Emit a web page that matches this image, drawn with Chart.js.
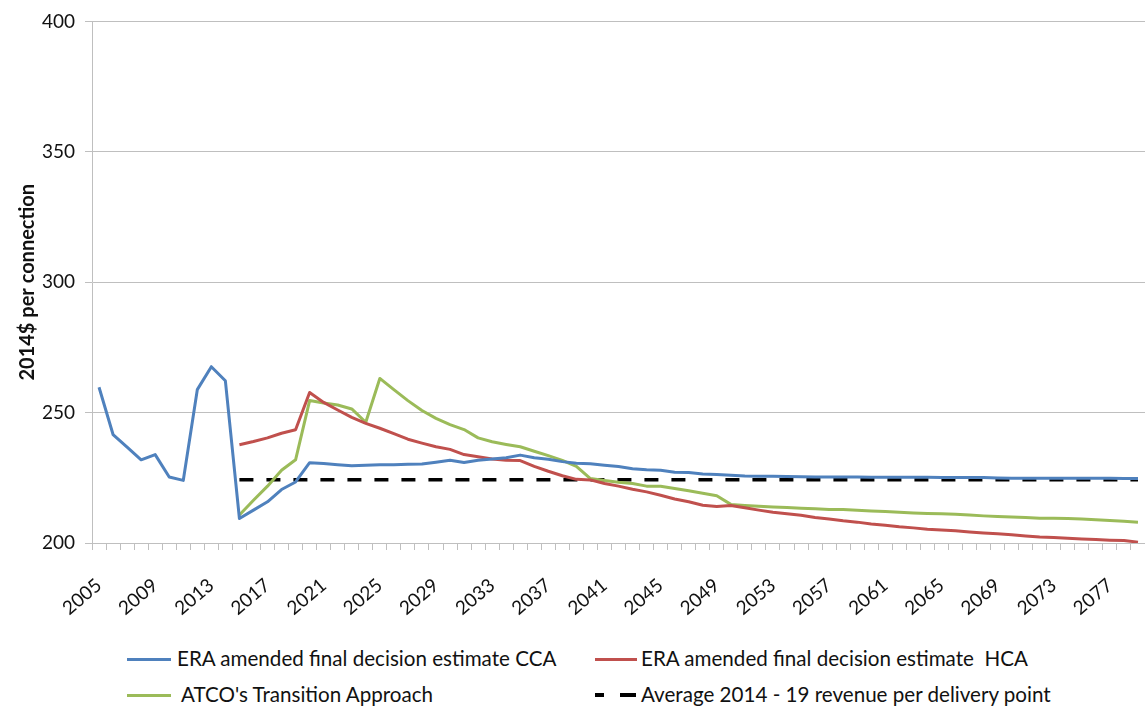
<!DOCTYPE html>
<html>
<head>
<meta charset="utf-8">
<script src="https://cdn.jsdelivr.net/npm/chart.js@4.4.0/dist/chart.umd.min.js"></script>
<style>
  body { margin: 0; background: #fff; font-family: Lato, "Noto Sans", sans-serif; }
  #wrap { position: relative; width: 1145px; height: 707px; overflow: hidden; }
  #chart { position: absolute; left: 0; top: 0; }
  .leg { position: absolute; font-size: 20.6px; color: #111; white-space: nowrap; line-height: 24px; }
  .sw { position: absolute; height: 0; border-top: 3px solid; }
</style>
</head>
<body>
<div id="wrap">
  <canvas id="chart" width="1145" height="640"></canvas>
  <div class="sw" style="left:127px;top:658px;width:44px;border-color:#4F81BD"></div>
  <div class="leg" style="left:177px;top:646px">ERA amended final decision estimate CCA</div>
  <div class="sw" style="left:595px;top:658px;width:42px;border-color:#C0504D"></div>
  <div class="leg" style="left:641px;top:646px">ERA amended final decision estimate &nbsp;HCA</div>
  <div class="sw" style="left:127px;top:694px;width:44px;border-color:#9BBB59"></div>
  <div class="leg" style="left:181px;top:682px">ATCO's Transition Approach</div>
  <div class="sw" style="left:595px;top:693px;width:9px;border-top-width:4px;border-color:#000"></div>
  <div class="sw" style="left:620px;top:693px;width:16px;border-top-width:4px;border-color:#000"></div>
  <div class="leg" style="left:641px;top:682px">Average 2014 - 19 revenue per delivery point</div>
</div>
<script>
const years = [];
for (let y = 2005; y <= 2079; y++) years.push(String(y));

// ERA amended final decision estimate CCA (2005-2079)
const ccaValues = [
  259.7, 241.6, 236.8, 231.9, 233.9, 225.3, 224.0, 258.8, 267.6, 262.2,
  209.4, 212.6, 215.8, 220.5, 223.4, 230.8, 230.5, 230.0, 229.6, 229.8,
  230.0, 230.0, 230.2, 230.3, 231.0, 231.7, 230.9, 231.7, 232.2, 232.7,
  233.7, 232.7, 232.1, 231.2, 230.6, 230.4, 229.8, 229.3, 228.5, 228.1,
  227.9, 227.1, 227.0, 226.5, 226.3, 226.0, 225.7, 225.6, 225.6, 225.5,
  225.4, 225.3, 225.3, 225.3, 225.3, 225.2, 225.2, 225.2, 225.2, 225.2,
  225.1, 225.1, 225.1, 225.1, 224.9, 224.8, 224.8, 224.8, 224.8, 224.8,
  224.8, 224.8, 224.8, 224.7, 224.7
];

// ERA amended final decision estimate HCA (from 2015)
const hcaValues = [
  null, null, null, null, null, null, null, null, null, null,
  237.7, 238.9, 240.3, 242.1, 243.4, 257.7, 253.9, 251.0, 248.2, 245.9,
  244.0, 241.9, 239.8, 238.3, 236.9, 235.9, 233.9, 233.1, 232.2, 231.7,
  231.6, 229.4, 227.5, 225.8, 224.4, 224.2, 222.8, 221.8, 220.6, 219.6,
  218.3, 216.9, 215.8, 214.5, 214.0, 214.4, 213.5, 212.6, 211.8, 211.2,
  210.6, 209.8, 209.2, 208.5, 208.0, 207.3, 206.8, 206.2, 205.8, 205.3,
  205.0, 204.7, 204.2, 203.8, 203.5, 203.2, 202.7, 202.3, 202.1, 201.8,
  201.5, 201.3, 201.1, 201.0, 200.3
];

// ATCO's Transition Approach (from 2015)
const atcoValues = [
  null, null, null, null, null, null, null, null, null, null,
  210.7, 216.4, 221.8, 227.9, 231.9, 254.6, 253.7, 252.9, 251.4, 246.3,
  263.1, 258.8, 254.6, 250.8, 247.8, 245.4, 243.5, 240.3, 238.8, 237.8,
  236.9, 235.2, 233.5, 231.7, 229.4, 224.7, 224.0, 223.3, 222.8, 221.8,
  221.8, 220.9, 220.0, 219.1, 218.1, 214.8, 214.4, 214.1, 213.8, 213.6,
  213.3, 213.1, 212.8, 212.8, 212.6, 212.3, 212.1, 211.8, 211.5, 211.3,
  211.2, 211.0, 210.7, 210.4, 210.2, 210.0, 209.8, 209.5, 209.5, 209.4,
  209.2, 208.9, 208.6, 208.3, 208.0
];

// Average 2014 - 19 revenue per delivery point (from 2015)
const avgValues = years.map(y => (Number(y) >= 2015 ? 224.3 : null));

const yTicks = [200, 250, 300, 350, 400];

const ctx = document.getElementById('chart').getContext('2d');

new Chart(ctx, {
  type: 'line',
  data: {
    labels: years,
    datasets: [
      { label: 'ERA amended final decision estimate CCA', data: ccaValues, borderColor: '#4F81BD', borderWidth: 3 },
      { label: 'ERA amended final decision estimate  HCA', data: hcaValues, borderColor: '#C0504D', borderWidth: 3 },
      { label: "ATCO's Transition Approach", data: atcoValues, borderColor: '#9BBB59', borderWidth: 3 },
      { label: 'Average 2014 - 19 revenue per delivery point', data: avgValues, borderColor: '#000', borderWidth: 3.5, borderDash: [14, 13] }
    ]
  },
  options: {
    responsive: false,
    animation: false,
    layout: { padding: { top: 19, right: 0, bottom: 0, left: 0 } },
    elements: {
      point: { radius: 0 },
      line: { tension: 0, borderJoinStyle: 'round', borderCapStyle: 'butt', fill: false }
    },
    plugins: {
      legend: { display: false },
      tooltip: { enabled: false }
    },
    scales: {
      x: {
        type: 'category',
        offset: true,
        grid: { display: true, offset: true, drawOnChartArea: false, tickLength: 7, color: '#bfbfbf' },
        border: { color: '#bfbfbf', width: 1 },
        ticks: {
          autoSkip: false,
          minRotation: 40,
          maxRotation: 40,
          padding: 24,
          color: '#111',
          font: { family: 'Lato, "Noto Sans", sans-serif', size: 19 },
          callback: function (val, i) { return i % 4 === 0 ? this.getLabelForValue(val) : ''; }
        },
        afterFit: scale => {
          scale.height = 640 - 543;
          scale.paddingLeft = 0;
          scale.paddingRight = 0;
        }
      },
      y: {
        min: 200,
        max: 400,
        afterBuildTicks: scale => { scale.ticks = yTicks.map(v => ({ value: v })); },
        grid: { color: '#bfbfbf', tickLength: 7 },
        border: { color: '#bfbfbf', width: 1 },
        ticks: {
          padding: 10,
          color: '#111',
          font: { family: 'Lato, "Noto Sans", sans-serif', size: 19 }
        },
        title: {
          display: true,
          text: '2014$ per connection',
          color: '#111',
          font: { family: 'Lato, "Noto Sans", sans-serif', size: 20, weight: 'bold' },
          padding: { top: 16, bottom: 0 }
        },
        afterFit: scale => { scale.width = 92; }
      }
    }
  }
});
</script>
</body>
</html>
